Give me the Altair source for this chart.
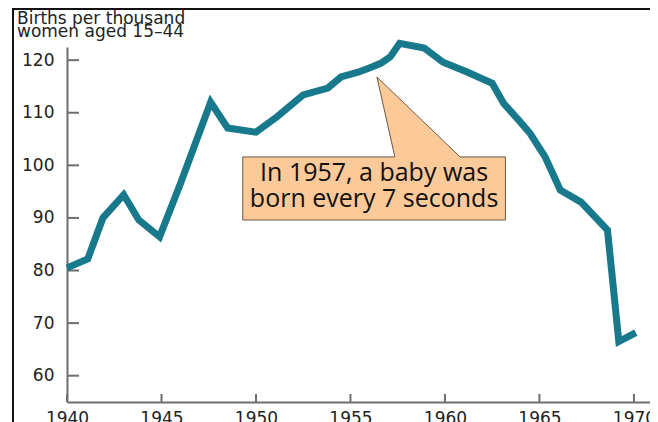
import altair as alt
import pandas as pd

# ---- data ----
years = [1940.0, 1941.1, 1941.9, 1943.0, 1943.8, 1944.9, 1946.0, 1947.6, 1948.5,
         1950.0, 1951.1, 1952.5, 1953.8, 1954.5, 1955.4, 1956.0, 1956.6, 1957.1,
         1957.6, 1958.9, 1959.9, 1961.2, 1962.5, 1963.1, 1963.9, 1964.5, 1965.3,
         1966.1, 1967.2, 1968.6, 1969.2, 1970.1]
rates = [80.5, 82.2, 90.0, 94.4, 89.6, 86.4, 96.5, 112.0, 107.1,
         106.3, 109.2, 113.4, 114.7, 116.8, 117.7, 118.5, 119.4, 120.6,
         123.2, 122.3, 119.6, 117.7, 115.6, 111.8, 108.6, 106.1, 101.6,
         95.3, 93.0, 87.7, 66.5, 68.2]
y_ticks = [60, 70, 80, 90, 100, 110, 120]
x_ticks = [1940, 1945, 1950, 1955, 1960, 1965, 1970]
title_lines = ["Births per thousand", "women aged 15\u201344"]
note_lines = ["In 1957, a baby was", "born every 7 seconds"]
box_years = [1949.3, 1963.2]
box_rates = [89.6, 101.6]
pointer_years = [1957.35, 1956.4, 1960.8]
pointer_rates = [101.6, 116.8, 101.6]

# ---- styling ----
W, H = 583, 355
TEAL = "#17798b"
AXC = "#6e6e6e"
TXT = "#222222"
LFONT = "DejaVu Sans"

xs = alt.Scale(domain=[1940, 1970.85], nice=False, zero=False)
ys = alt.Scale(domain=[55, 122.5], nice=False, zero=False)

x_axis = alt.Axis(values=x_ticks, format="d", ticks=False, grid=False, labelFlush=False,
                  labelPadding=8, title=None, domainColor=AXC, domainWidth=2,
                  labelFont=LFONT, labelFontSize=17, labelColor=TXT, labelOverlap=False)
y_axis = alt.Axis(values=y_ticks, format="d", ticks=False, grid=False, labelFlush=False,
                  labelPadding=13, title=None, domainColor=AXC, domainWidth=2,
                  labelFont=LFONT, labelFontSize=17, labelColor=TXT, labelOverlap=False)

X = lambda f: alt.X(f, type="quantitative", scale=xs, axis=x_axis)
Y = lambda f: alt.Y(f, type="quantitative", scale=ys, axis=y_axis)

df = pd.DataFrame({"year": years, "rate": rates})

line = alt.Chart(df).mark_line(color=TEAL, strokeWidth=7, strokeJoin="miter",
                               strokeCap="butt").encode(x=X("year"), y=Y("rate"))

ytick = alt.Chart(pd.DataFrame({"rate": y_ticks})).mark_rule(
    color=AXC, strokeWidth=2).encode(y=Y("rate"), x=alt.value(0), x2=alt.value(12))
xtick = alt.Chart(pd.DataFrame({"year": x_ticks})).mark_rule(
    color=AXC, strokeWidth=2).encode(x=X("year"), y=alt.value(H), y2=alt.value(H - 8))

box_df = pd.DataFrame({"year": [box_years[0]], "year2": [box_years[1]],
                       "rate": [box_rates[0]], "rate2": [box_rates[1]]})
box = alt.Chart(box_df).mark_rect(fill="#fcc999", stroke="#6b5a4a", strokeWidth=1).encode(
    x=X("year"), x2="year2", y=Y("rate"), y2="rate2")

# pointer triangle: area fill + two outline edges
ptr_area_df = pd.DataFrame({
    "year": [pointer_years[1], pointer_years[0], pointer_years[2]],
    "rate": [pointer_rates[1],
             pointer_rates[1] + (pointer_rates[2] - pointer_rates[1]) *
             (pointer_years[0] - pointer_years[1]) / (pointer_years[2] - pointer_years[1]),
             pointer_rates[2]],
    "rate2": [pointer_rates[1], pointer_rates[0] - 0.3, pointer_rates[2] - 0.3],
})
ptr_fill = alt.Chart(ptr_area_df).mark_area(color="#fcc999", opacity=1).encode(
    x=X("year"), y=Y("rate"), y2="rate2")
ptr_edge_df = pd.DataFrame({"year": pointer_years, "rate": pointer_rates, "i": [0, 1, 2]})
ptr_edge = alt.Chart(ptr_edge_df).mark_line(color="#6b5a4a", strokeWidth=1).encode(
    x=X("year"), y=Y("rate"), order="i:Q")

note_df = pd.DataFrame({"year": [(box_years[0] + box_years[1]) / 2],
                        "rate": [(box_rates[0] + box_rates[1]) / 2]})
note = alt.Chart(note_df).mark_text(text=note_lines, font="Open Sans", fontSize=25,
                                    lineHeight=26, align="center", baseline="middle",
                                    dy=-15, color="#111111").encode(x=X("year"), y=Y("rate"))

one = pd.DataFrame({"k": [0]})
title = alt.Chart(one).mark_text(text=title_lines, font=LFONT, fontSize=17, lineHeight=13,
                                 align="left", baseline="alphabetic", color=TXT).encode(
    x=alt.value(-50), y=alt.value(-23))

frame_left = alt.Chart(one).mark_rule(color="#111111", strokeWidth=2).encode(
    x=alt.value(-54), y=alt.value(-39), y2=alt.value(H + 30))
frame_top = alt.Chart(one).mark_rule(color="#111111", strokeWidth=2).encode(
    x=alt.value(-55), x2=alt.value(W + 10), y=alt.value(-38))

chart = alt.layer(frame_left, frame_top, ytick, xtick, line, box, ptr_fill, ptr_edge, note,
                  title).properties(
    width=W, height=H,
    autosize=alt.AutoSizeParams(type="none"),
    padding={"left": 59, "top": 39, "right": 0, "bottom": 20},
).configure_view(stroke=None)

chart.save("out.html", embed_options={"renderer": "svg", "actions": False})
